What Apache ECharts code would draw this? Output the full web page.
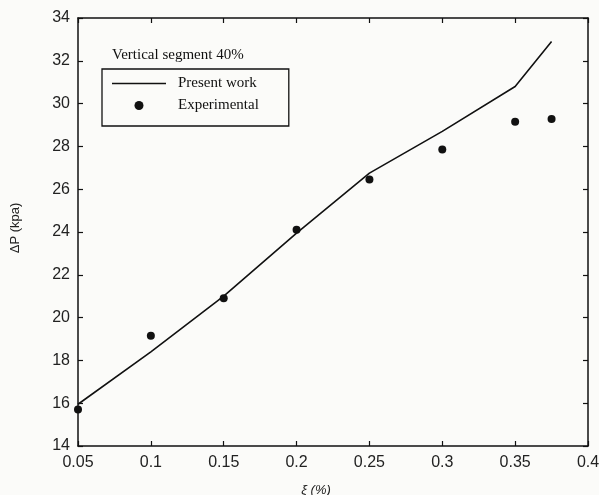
<!DOCTYPE html>
<html>
<head>
<meta charset="utf-8">
<script src="https://cdn.jsdelivr.net/npm/echarts@6/dist/echarts.min.js"></script>
<style>
  html, body { margin: 0; padding: 0; background: #fbfbf9; }
  #chart { width: 599px; height: 495px; }
</style>
</head>
<body>
<div id="chart"></div>
<script>
// ---- data ----
const lineX = [0.05, 0.1, 0.15, 0.2, 0.25, 0.3, 0.35, 0.375];
const lineY = [15.95, 18.4, 21.0, 23.95, 26.75, 28.7, 30.8, 32.9];
const expX = [0.05, 0.1, 0.15, 0.2, 0.25, 0.3, 0.35, 0.375];
const expY = [15.7, 19.15, 20.9, 24.1, 26.45, 27.85, 29.15, 29.28];
const xTicks = [0.05, 0.1, 0.15, 0.2, 0.25, 0.3, 0.35, 0.4];
const yTicks = [14, 16, 18, 20, 22, 24, 26, 28, 30, 32, 34];
const seriesNames = ['Present work', 'Experimental'];
const titleText = 'Vertical segment 40%';
const xName = 'ξ (%)';
const yName = 'ΔP (kpa)';

const chart = echarts.init(document.getElementById('chart'), null, { renderer: 'canvas' });
const axisColor = '#111';
const labelFont = { fontFamily: 'Liberation Sans', fontSize: 16, color: '#222' };

const baseX = {
  type: 'value', min: 0.05, max: 0.4, interval: 0.05,
  axisLine: { show: true, onZero: false, lineStyle: { color: axisColor, width: 1.5 } },
  axisTick: { show: true, inside: true, length: 5, lineStyle: { color: axisColor, width: 1.2 } },
  splitLine: { show: false }
};
const baseY = {
  type: 'value', min: 14, max: 34, interval: 2,
  axisLine: { show: true, onZero: false, lineStyle: { color: axisColor, width: 1.5 } },
  axisTick: { show: true, inside: true, length: 5, lineStyle: { color: axisColor, width: 1.2 } },
  splitLine: { show: false }
};

chart.setOption({
  animation: false,
  backgroundColor: '#fbfbf9',
  title: {
    text: titleText, left: 107, top: 43,
    textStyle: { fontFamily: 'Liberation Serif', fontSize: 15, fontWeight: 'normal', color: '#111' }
  },
  legend: {
    orient: 'vertical', left: 102, top: 69,
    data: [
      { name: seriesNames[0], icon: 'path://M0,0 L54,0 L54,1.6 L0,1.6 Z' },
      { name: seriesNames[1] }
    ],
    itemWidth: 54, itemHeight: 9, itemGap: 7,
    padding: [7, 30, 13, 10],
    borderColor: '#111', borderWidth: 1.3,
    textStyle: { fontFamily: 'Liberation Serif', fontSize: 15, color: '#111', padding: [0, 0, 0, 7] }
  },
  grid: { left: 78, right: 11, top: 18, bottom: 49, containLabel: false, outerBoundsMode: 'none' },
  xAxis: [
    Object.assign({}, baseX, {
      position: 'bottom',
      name: xName, nameLocation: 'middle', nameGap: 38,
      nameTextStyle: { fontFamily: 'Liberation Sans', fontStyle: 'italic', fontSize: 13, color: '#222', padding: [0, 34, 0, 0] },
      axisLabel: Object.assign({ margin: 9, formatter: v => String(+v.toFixed(2)) }, labelFont)
    }),
    Object.assign({}, baseX, { position: 'top', axisLabel: { show: false } })
  ],
  yAxis: [
    Object.assign({}, baseY, {
      position: 'left',
      name: yName, nameLocation: 'middle', nameGap: 56, nameRotate: 90,
      nameTextStyle: { fontFamily: 'Liberation Sans', fontSize: 13, color: '#222', padding: [0, 0, 0, 8] },
      axisLabel: Object.assign({ margin: 8 }, labelFont)
    }),
    Object.assign({}, baseY, { position: 'right', axisLabel: { show: false } })
  ],
  series: [
    {
      name: seriesNames[0], type: 'line',
      data: lineX.map((x, i) => [x, lineY[i]]),
      showSymbol: false, symbol: 'none',
      lineStyle: { color: '#111', width: 1.6 },
      itemStyle: { color: '#111' }
    },
    {
      name: seriesNames[1], type: 'scatter',
      data: expX.map((x, i) => [x, expY[i]]),
      symbol: 'circle', symbolSize: 8,
      itemStyle: { color: '#111', opacity: 1 }
    }
  ]
});
</script>
</body>
</html>
